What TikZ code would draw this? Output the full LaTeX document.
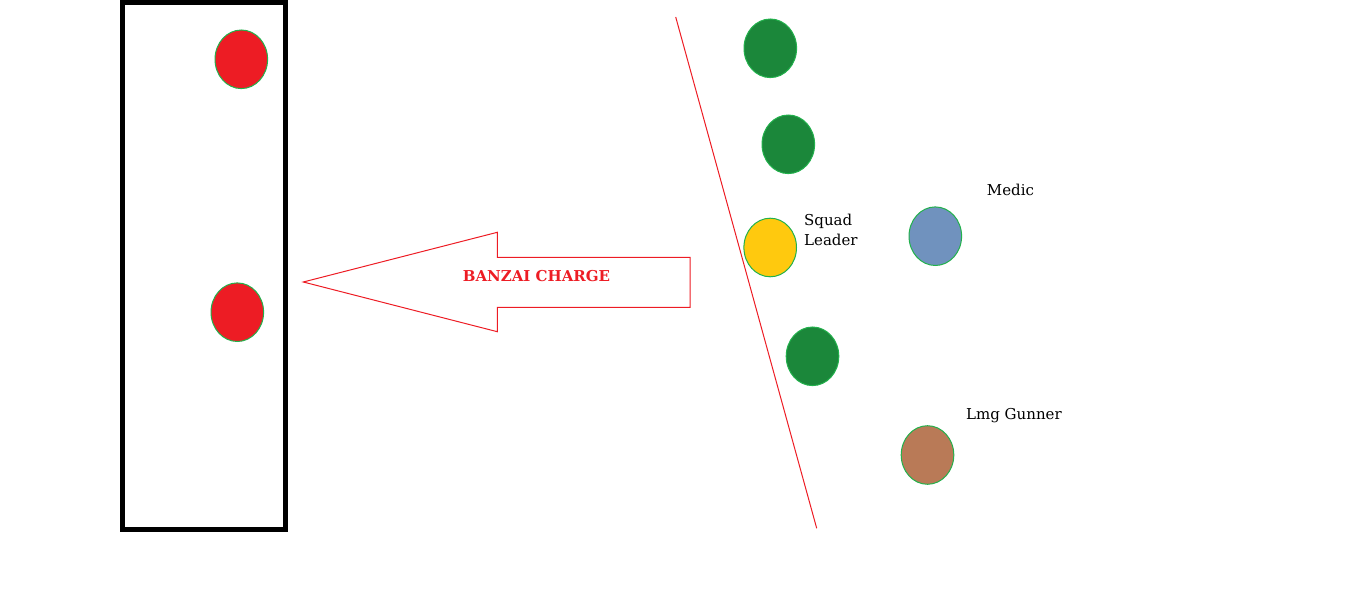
\documentclass[tikz,border=0pt]{standalone}
\usepackage{fontspec}
\setmainfont{DejaVu Serif}
\usepackage{xcolor}
\usetikzlibrary{shapes.geometric}
\definecolor{rimGreen}{HTML}{22B14C}
\definecolor{enemyRed}{HTML}{ED1C24}
\definecolor{riflemanGreen}{HTML}{1B873A}
\definecolor{leaderYellow}{HTML}{FFC90E}
\definecolor{medicBlue}{HTML}{7092BE}
\definecolor{gunnerBrown}{HTML}{B97A57}
\tikzset{
    soldier/.style={ellipse, draw=rimGreen, line width=1pt, inner sep=0pt,
        minimum width=52.6, minimum height=58.6},
    tag/.style={font=\fontsize{15}{20}\selectfont, inner sep=0pt}
}

\begin{document}
\begin{tikzpicture}[x=1pt, y=-1pt]
    \useasboundingbox (0,0) rectangle (1360,612);
    % trench with the enemy
    \draw[line width=5pt] (122.5,2.5) rectangle (285.5,529.5);
    \node[soldier, fill=enemyRed] (enemyA) at (241.3,59.3) {};
    \node[soldier, fill=enemyRed] (enemyB) at (237.3,312.2) {};
    % the charge
    \draw[enemyRed, line width=1pt]
        (303.3,282) -- (497.3,232.3) -- (497.3,257.3) -- (690,257.3)
        -- (690,307.3) -- (497.3,307.3) -- (497.3,331.7) -- cycle;
    \node[tag, anchor=base, text=enemyRed, font=\bfseries\fontsize{15}{20}\selectfont]
        (charge) at (536.5,282) {BANZAI CHARGE};
    % firing line
    \coordinate (lineTop) at (675.7,17);
    \coordinate (lineEnd) at (816.7,528.3);
    \draw[enemyRed, line width=1pt] (lineTop) -- (lineEnd);
    % the squad
    \foreach \name/\x/\y in {rifleA/770.3/48.3, rifleB/788.3/144.3, rifleC/812.5/356.3}
        \node[soldier, fill=riflemanGreen] (\name) at (\x,\y) {};
    \node[soldier, fill=leaderYellow] (leader) at (770.2,247.5) {};
    \node[soldier, fill=medicBlue] (medic) at (935.3,236.2) {};
    \node[soldier, fill=gunnerBrown] (gunner) at (927.5,455) {};
    \node[tag, anchor=north west, align=left] (leaderTag) at (804,213.5) {Squad\\Leader};
    \node[tag, anchor=base west] (medicTag) at (986.7,196) {Medic};
    \node[tag, anchor=base west] (gunnerTag) at (966,419.5) {Lmg Gunner};
\end{tikzpicture}
\end{document}
